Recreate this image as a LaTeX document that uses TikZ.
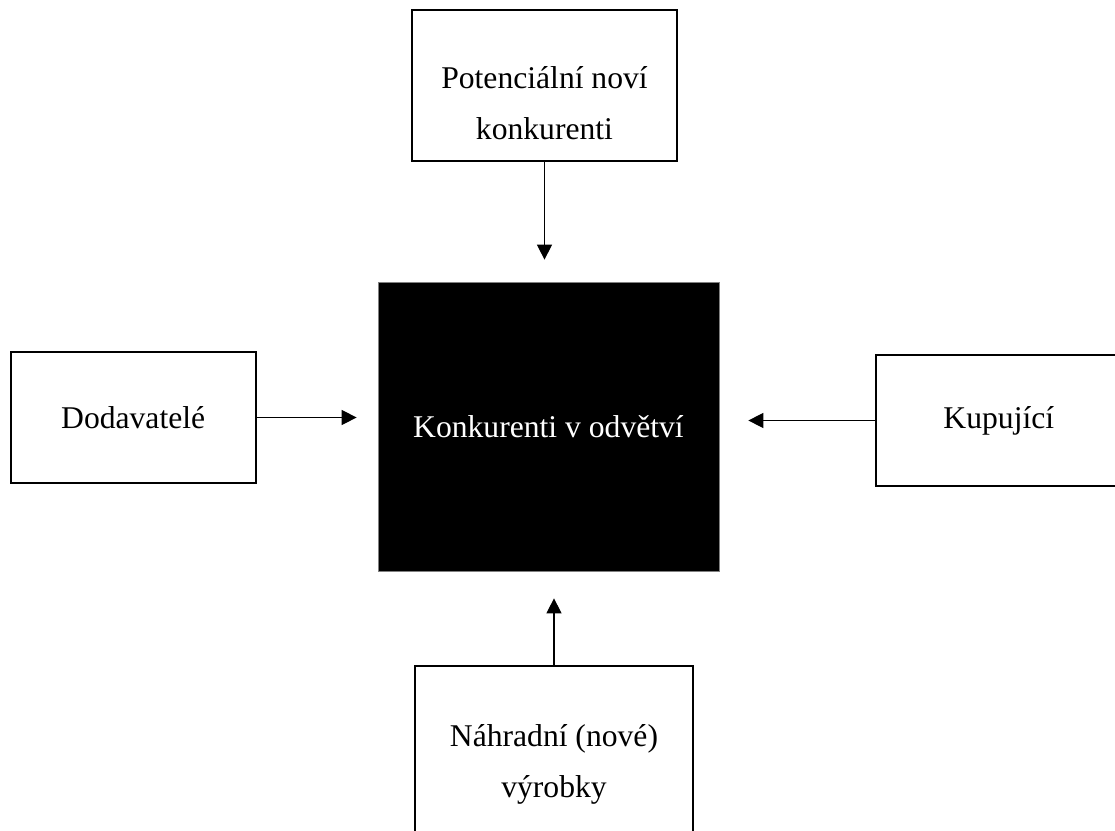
\documentclass[tikz,border=0pt]{standalone}
\usepackage{fontspec}
\setmainfont{Liberation Serif}
\usetikzlibrary{positioning, arrows.meta}

\begin{document}
\begin{tikzpicture}[
    block/.style={
        draw,
        line width=1.1pt,
        align=center,
        font=\fontsize{18}{29}\selectfont
    },
    mainblock/.style={
        draw=gray,
        fill=black,
        text=white,
        align=center,
        minimum width=6.82cm,
        minimum height=5.78cm,
        font=\fontsize{18}{29}\selectfont
    },
    arrow/.style={-{Triangle[length=0.3cm, width=0.3cm]}, line width=0.6pt}
]
\clip (-10.97,-8.09) rectangle (11.33,8.53);
\useasboundingbox (-10.97,-8.09) rectangle (11.33,8.53);

% Center
\node[mainblock] (konk) at (0,0) {Konkurenti v odvětví};

% Forces
\node[block, minimum width=5.3cm, minimum height=3.02cm,
      above=2.4cm of konk, xshift=-0.08cm] (nove) {\rule{0pt}{1.17cm}Potenciální noví\\konkurenti};
\node[block, minimum width=4.9cm, minimum height=2.62cm,
      left=2.42cm of konk, yshift=0.18cm] (dod) {Dodavatelé};
\node[block, minimum width=4.9cm, minimum height=2.62cm,
      right=3.12cm of konk, yshift=0.12cm] (kup) {Kupující};
\node[block, minimum width=5.56cm, minimum height=3.6cm,
      below=1.88cm of konk, xshift=0.11cm] (nahr) {\rule{0pt}{0.77cm}Náhradní (nové)\\výrobky};

% Arrows
\draw[arrow, shorten >=0.44cm] (nove.south) -- (nove.south |- konk.north);
\draw[arrow, shorten >=0.42cm] (dod.east) -- (dod.east -| konk.west);
\draw[arrow, shorten >=0.58cm] (kup.west) -- (kup.west -| konk.east);
\draw[arrow, shorten >=0.54cm] (nahr.north) -- (nahr.north |- konk.south);

\end{tikzpicture}
\end{document}
